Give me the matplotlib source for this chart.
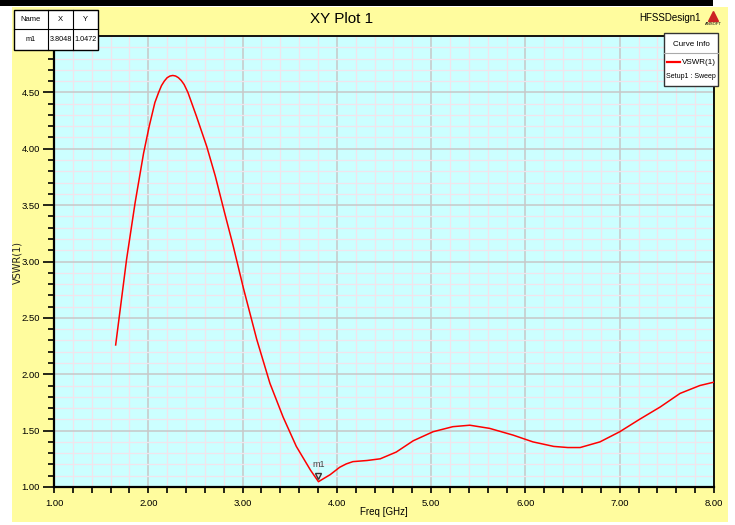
import matplotlib
matplotlib.use("Agg")
import matplotlib.pyplot as plt
from matplotlib.patches import Rectangle
from matplotlib.lines import Line2D
from matplotlib.ticker import MultipleLocator, FormatStrFormatter
import matplotlib.transforms as mtransforms

plt.rcParams['font.family'] = ['Liberation Sans', 'DejaVu Sans']

# ---- data ----
freq = [1.654, 1.77, 1.86, 1.95, 2.01, 2.07, 2.11, 2.14, 2.17, 2.20, 2.23, 2.26, 2.29,
        2.32, 2.35, 2.38, 2.42, 2.51, 2.62, 2.71, 2.81, 2.90, 3.01, 3.15, 3.29, 3.43,
        3.57, 3.72, 3.8048, 3.87, 3.93, 4.03, 4.10, 4.17, 4.32, 4.46, 4.63, 4.81, 5.02,
        5.23, 5.41, 5.62, 5.87, 6.08, 6.30, 6.45, 6.58, 6.79, 7.00, 7.21, 7.43, 7.64,
        7.85, 8.00]
vswr = [2.26, 3.02, 3.52, 3.96, 4.20, 4.41, 4.50, 4.56, 4.60, 4.63, 4.645, 4.65, 4.645,
        4.63, 4.605, 4.57, 4.50, 4.29, 4.02, 3.76, 3.43, 3.14, 2.76, 2.31, 1.92, 1.62,
        1.36, 1.15, 1.0472, 1.08, 1.11, 1.175, 1.205, 1.225, 1.235, 1.25, 1.31, 1.41, 1.49,
        1.535, 1.548, 1.52, 1.46, 1.40, 1.36, 1.35, 1.35, 1.40, 1.49, 1.60, 1.71, 1.83,
        1.90, 1.93]
marker_name = "m1"
marker_x = 3.8048
marker_y = 1.0472
table_header = ["Name", "X", "Y"]
table_row = ["m1", "3.8048", "1.0472"]

W, H = 735, 525
fig = plt.figure(figsize=(W / 100, H / 100), dpi=100)
fig.patch.set_facecolor('white')

def fx(px):
    return px / W

def fy(py):
    return 1 - py / H

yellow = '#fffc9e'
# yellow panel
fig.add_artist(Rectangle((fx(12), fy(522)), fx(728) - fx(12), fy(7) - fy(522),
                         transform=fig.transFigure, facecolor=yellow, edgecolor='none', zorder=0))
# black bar at top
fig.add_artist(Rectangle((fx(0), fy(6)), fx(713), fy(0) - fy(6),
                         transform=fig.transFigure, facecolor='black', edgecolor='none', zorder=0))

left, right, top, bottom = 54, 714, 36, 487
ax = fig.add_axes([fx(left), fy(bottom), fx(right) - fx(left), fy(top) - fy(bottom)])
ax.set_facecolor('#ccffff')
ax.set_xlim(1.0, 8.0)
ax.set_ylim(1.0, 5.0)

ax.xaxis.set_major_locator(MultipleLocator(1.0))
ax.xaxis.set_minor_locator(MultipleLocator(0.2))
ax.yaxis.set_major_locator(MultipleLocator(0.5))
ax.yaxis.set_minor_locator(MultipleLocator(0.1))
ax.xaxis.set_major_formatter(FormatStrFormatter('%.2f'))
ax.yaxis.set_major_formatter(FormatStrFormatter('%.2f'))

ax.grid(which='minor', color='#f2e4ec', linewidth=0.9, zorder=0)
ax.grid(which='major', color='#c8c8c8', linewidth=1.1, zorder=0)
ax.set_axisbelow(True)

# no label at the top (5.00)
ax.set_yticks([1.0, 1.5, 2.0, 2.5, 3.0, 3.5, 4.0, 4.5])

ax.tick_params(axis='both', which='major', labelsize=6.8, direction='out', width=1.2, color='black')
ax.tick_params(axis='y', which='major', length=8, pad=2)
ax.tick_params(axis='x', which='major', length=4, pad=5)
ax.tick_params(axis='both', which='minor', direction='out', length=4, width=1.2, color='black')

for s in ax.spines.values():
    s.set_color('black')
    s.set_linewidth(1.3)
ax.spines['left'].set_linewidth(1.6)
ax.spines['bottom'].set_linewidth(1.6)

ax.plot(freq, vswr, color='#ff0000', linewidth=1.1, zorder=3)

# marker m1
trans = mtransforms.offset_copy(ax.transData, fig=fig, x=0, y=4, units='points')
ax.plot([marker_x], [marker_y], marker='v', markersize=5, markerfacecolor='#e8e8e8',
        markeredgecolor='#333333', markeredgewidth=1.0, transform=trans, zorder=4, clip_on=False)
ax.annotate(marker_name, xy=(marker_x, marker_y), xytext=(0, 9), textcoords='offset points',
            ha='center', va='bottom', fontsize=6.5, color='#444444', zorder=4)

ax.set_xlabel('Freq [GHz]', fontsize=7, labelpad=1)
ax.xaxis.set_label_coords(0.5, -0.045)
fig.text(fx(17), fy(262), 'VSWR(1)', rotation=90, fontsize=7, ha='center', va='center',
         family=['DejaVu Sans'], color='#222222')

# title
fig.text(fx(342), fy(19), 'XY Plot 1', fontsize=11, ha='center', va='center')
fig.text(fx(670), fy(18), 'HFSSDesign1', fontsize=7, ha='center', va='center')
# Ansoft logo
fig.add_artist(Line2D([fx(713)], [fy(16)], marker='^', markersize=7, color='#cc2222',
                      transform=fig.transFigure))
fig.text(fx(713), fy(24), 'ANSOFT', fontsize=3, ha='center', va='center')

# marker table
cols = [14, 48, 73, 98]
rows = [10, 29, 50]
fig.add_artist(Rectangle((fx(cols[0]), fy(rows[2])), fx(cols[3]) - fx(cols[0]), fy(rows[0]) - fy(rows[2]),
                         transform=fig.transFigure, facecolor='white', edgecolor='black',
                         linewidth=1.0, zorder=5))
for c in cols[1:3]:
    fig.add_artist(Line2D([fx(c), fx(c)], [fy(rows[0]), fy(rows[2])], color='black',
                          linewidth=0.8, transform=fig.transFigure, zorder=6))
fig.add_artist(Line2D([fx(cols[0]), fx(cols[3])], [fy(rows[1]), fy(rows[1])], color='black',
                      linewidth=0.8, transform=fig.transFigure, zorder=6))
for i in range(3):
    cx = (cols[i] + cols[i + 1]) / 2
    fig.text(fx(cx), fy((rows[0] + rows[1]) / 2), table_header[i], fontsize=5.5,
             ha='center', va='center', zorder=7)
    fig.text(fx(cx), fy((rows[1] + rows[2]) / 2), table_row[i], fontsize=5.2,
             ha='center', va='center', zorder=7)

# curve info box
bx0, bx1, by0, by1 = 664, 718, 33, 86
fig.add_artist(Rectangle((fx(bx0), fy(by1)), fx(bx1) - fx(bx0), fy(by0) - fy(by1),
                         transform=fig.transFigure, facecolor='white', edgecolor='#333333',
                         linewidth=1.0, zorder=5))
fig.add_artist(Line2D([fx(bx0), fx(bx1)], [fy(53), fy(53)], color='#aaaaaa', linewidth=0.8,
                      transform=fig.transFigure, zorder=6))
fig.text(fx((bx0 + bx1) / 2), fy(44), 'Curve Info', fontsize=5.8, ha='center', va='center', zorder=7)
fig.add_artist(Line2D([fx(667), fx(680)], [fy(62), fy(62)], color='#ff0000', linewidth=1.6,
                      transform=fig.transFigure, zorder=7))
fig.text(fx(716), fy(62), 'VSWR(1)', fontsize=5.8, ha='right', va='center', zorder=7)
fig.text(fx((bx0 + bx1) / 2), fy(76), 'Setup1 : Sweep', fontsize=5.0, ha='center', va='center', zorder=7)

fig.savefig('out.png', dpi=100, facecolor=fig.get_facecolor())
